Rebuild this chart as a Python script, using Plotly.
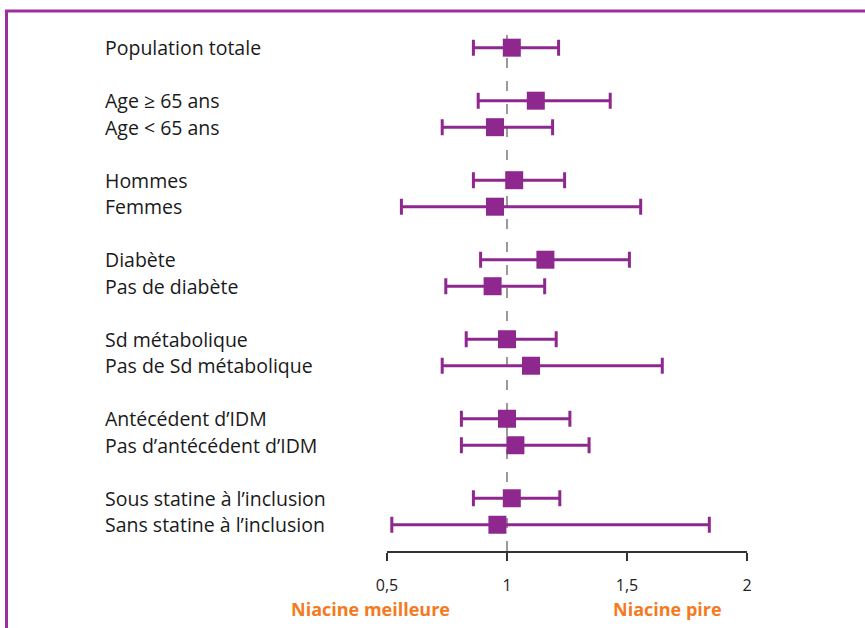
import plotly.graph_objects as go

# ---- data ----
groups = [
    ["Population totale"],
    ["Age ≥ 65 ans", "Age < 65 ans"],
    ["Hommes", "Femmes"],
    ["Diabète", "Pas de diabète"],
    ["Sd métabolique", "Pas de Sd métabolique"],
    ["Antécédent d’IDM", "Pas d’antécédent d’IDM"],
    ["Sous statine à l’inclusion", "Sans statine à l’inclusion"],
]
hr    = [1.02, 1.12, 0.95, 1.03, 0.95, 1.16, 0.94, 1.00, 1.10, 1.00, 1.035, 1.02, 0.96]
lower = [0.86, 0.88, 0.73, 0.86, 0.56, 0.89, 0.745, 0.83, 0.73, 0.81, 0.81, 0.86, 0.52]
upper = [1.215, 1.43, 1.19, 1.24, 1.557, 1.51, 1.157, 1.205, 1.647, 1.262, 1.342, 1.22, 1.843]
tick_vals = [0.5, 1, 1.5, 2]
tick_text = ["0,5", "1", "1,5", "2"]

PURPLE = "#8e288e"
ORANGE = "#f47a22"

# row positions: one blank row between groups
labels, ypos = [], []
r = 0
for g in groups:
    for lab in g:
        labels.append(lab)
        ypos.append(r)
        r += 1
    r += 1

W, H = 865, 628
L, R, T, B = 387, 118, 27, 77
pw, ph = W - L - R, H - T - B

def px_to_paper_x(px):
    return (px - L) / pw

def px_to_paper_y(py):
    return (H - B - py) / ph

fig = go.Figure()
fig.add_trace(go.Scatter(
    x=hr, y=ypos, mode="markers",
    marker=dict(symbol="square", size=18, color=PURPLE, line=dict(width=0)),
    error_x=dict(type="data", symmetric=False,
                 array=[u - h for u, h in zip(upper, hr)],
                 arrayminus=[h - l for h, l in zip(hr, lower)],
                 color=PURPLE, thickness=3, width=8),
    hoverinfo="skip", showlegend=False,
))

annotations = []
for lab, yv in zip(labels, ypos):
    annotations.append(dict(
        text=lab, x=px_to_paper_x(103), xref="paper", y=yv, yref="y",
        xanchor="left", yanchor="middle", showarrow=False,
        font=dict(family="Open Sans", size=19.5, color="#1a1a1a")))
annotations.append(dict(text="<b>Niacine meilleure</b>", x=px_to_paper_x(370), xref="paper",
                        y=px_to_paper_y(609), yref="paper", showarrow=False,
                        xanchor="center", yanchor="middle",
                        font=dict(family="Open Sans", size=18, color=ORANGE)))
annotations.append(dict(text="<b>Niacine pire</b>", x=px_to_paper_x(667), xref="paper",
                        y=px_to_paper_y(609), yref="paper", showarrow=False,
                        xanchor="center", yanchor="middle",
                        font=dict(family="Open Sans", size=18, color=ORANGE)))

shapes = [
    dict(type="line", xref="x", yref="paper", x0=1, x1=1, y0=0, y1=1,
         line=dict(color="#9a9a9a", width=2, dash="10px,13px"), layer="below"),
    dict(type="rect", xref="paper", yref="paper",
         x0=px_to_paper_x(6.5), x1=px_to_paper_x(900),
         y0=px_to_paper_y(700), y1=px_to_paper_y(11),
         line=dict(color="#9b2f9b", width=3), fillcolor="rgba(0,0,0,0)"),
]

fig.update_layout(
    width=W, height=H,
    margin=dict(l=L, r=R, t=T, b=B, pad=0),
    paper_bgcolor="white", plot_bgcolor="white",
    xaxis=dict(range=[0.5, 2], tickvals=tick_vals, ticktext=tick_text,
               showgrid=False, zeroline=False, showline=True,
               linecolor="#333333", linewidth=2,
               ticks="outside", ticklen=8, tickwidth=2, tickcolor="#333333",
               ticklabelstandoff=11,
               tickfont=dict(family="Open Sans", size=16, color="#222222")),
    yaxis=dict(range=[max(ypos) + 0.99, -0.78], showgrid=False, zeroline=False,
               showline=False, showticklabels=False, ticks=""),
    annotations=annotations,
    shapes=shapes,
)

fig.write_html("out.html", config={"displayModeBar": False},
               post_script="document.body.style.margin='0';document.body.style.overflow='hidden';")
